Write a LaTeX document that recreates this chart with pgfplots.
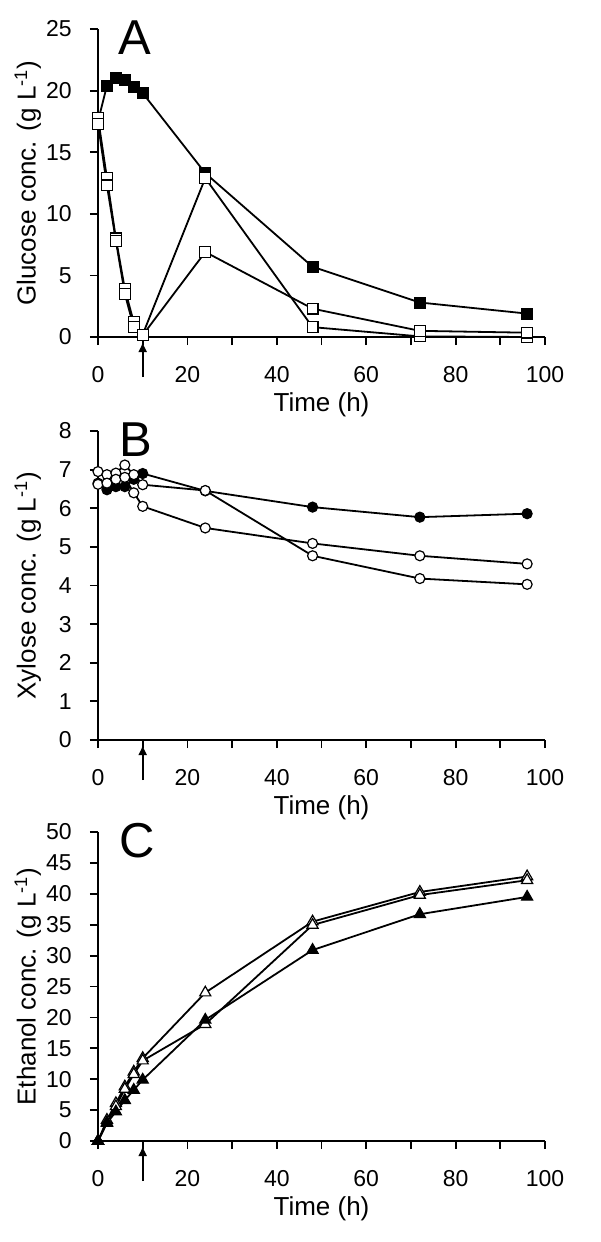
\documentclass[border=0pt]{standalone}
\usepackage{fontspec}
\setmainfont{Liberation Sans}
\usepackage{pgfplots}
\pgfplotsset{compat=1.18}
\usetikzlibrary{arrows.meta}

\pgfplotsset{
 panel/.style={
  scale only axis, width=223.5pt, anchor=south west,
  xmin=0, xmax=100, ymin=0,
  axis x line=bottom, axis y line=left,
  axis line style={-, line width=0.9pt},
  tick align=outside, major tick length=4pt, minor tick length=4pt,
  every tick/.style={black, line width=0.9pt},
  xtick={0,20,...,100}, minor xtick={10,30,...,90},
  tick label style={font=\fontsize{11.5}{13}\selectfont},
  /pgf/number format/assume math mode=true,
  xticklabel style={anchor=center, inner sep=0pt, yshift=-15pt},
  yticklabel style={anchor=east, inner sep=0pt, xshift=-9pt},
  every axis x label/.style={at={(axis description cs:0.5,-0.22)}, anchor=center, font=\fontsize{13}{15}\selectfont},
  every axis y label/.style={at={(axis description cs:-0.157,0.5)}, rotate=90, anchor=center, font=\fontsize{13}{15}\selectfont},
  xlabel={Time (h)},
  clip=false,
 },
 fsq/.style={black, line width=0.9pt, mark=square*, mark size=2.7pt, mark options={solid, fill=black, line width=0.6pt}},
 osq/.style={black, line width=0.9pt, mark=square*, mark size=2.7pt, mark options={solid, fill=white, line width=0.6pt}},
 fci/.style={black, line width=0.9pt, mark=*, mark size=2.5pt, mark options={solid, fill=black, line width=0.6pt}},
 oci/.style={black, line width=0.9pt, mark=*, mark size=2.5pt, mark options={solid, fill=white, line width=0.6pt}},
 ftr/.style={black, line width=0.9pt, mark=triangle*, mark size=3.2pt, mark options={solid, fill=black, line width=0.6pt}},
 otr/.style={black, line width=0.9pt, mark=triangle*, mark size=3.2pt, mark options={solid, fill=white, line width=0.6pt}},
}
\newcommand{\uparr}{\draw[-{Latex[length=5pt,width=4.5pt]}, line width=0.8pt] ([yshift=-20pt]axis cs:10,0) -- ([yshift=-2.5pt]axis cs:10,0);}

\begin{document}
\begin{tikzpicture}
\useasboundingbox (0pt,0pt) rectangle (300pt,-621pt);

% Panel A
\begin{axis}[panel, at={(49pt,-168.5pt)}, height=154pt,
  ymax=25, ytick={0,5,...,25},
  ylabel={Glucose conc. (g L\textsuperscript{-1})}]
\addplot[fsq] coordinates {(0,17.5)(2,20.4)(4,21.0)(6,20.9)(8,20.3)(10,19.8)(24,13.3)(48,5.7)(72,2.8)(96,1.9)};
\addplot[osq] coordinates {(0,17.8)(2,12.9)(4,8.0)(6,3.9)(8,1.2)(10,0.2)(24,12.9)(48,0.8)(72,0.05)(96,0.0)};
\addplot[osq] coordinates {(0,17.3)(2,12.3)(4,7.8)(6,3.5)(8,0.8)(10,0.15)(24,6.9)(48,2.3)(72,0.5)(96,0.35)};
\uparr
\end{axis}

% Panel B
\begin{axis}[panel, at={(49pt,-370pt)}, height=154.5pt,
  ymax=8, ytick={0,1,...,8},
  ylabel={Xylose conc. (g L\textsuperscript{-1})}]
\addplot[fci] coordinates {(0,6.65)(2,6.48)(4,6.56)(6,6.56)(8,6.75)(10,6.9)(24,6.45)(48,6.03)(72,5.77)(96,5.86)};
\addplot[oci] coordinates {(0,6.95)(2,6.87)(4,6.91)(6,7.12)(8,6.87)(10,6.61)(24,6.46)(48,4.77)(72,4.18)(96,4.03)};
\addplot[oci] coordinates {(0,6.62)(2,6.65)(4,6.75)(6,6.8)(8,6.4)(10,6.05)(24,5.49)(48,5.09)(72,4.77)(96,4.56)};
\uparr
\end{axis}

% Panel C
\begin{axis}[panel, at={(49pt,-570.5pt)}, height=154.5pt,
  ymax=50, ytick={0,5,...,50},
  ylabel={Ethanol conc. (g L\textsuperscript{-1})}]
\addplot[otr] coordinates {(0,0)(2,3.4)(4,6.1)(6,8.8)(8,11.2)(10,13.4)(24,24.0)(48,35.5)(72,40.3)(96,42.8)};
\addplot[otr] coordinates {(0,0)(2,3.0)(4,5.6)(6,8.4)(8,10.8)(10,13.0)(24,18.9)(48,34.95)(72,39.8)(96,42.2)};
\addplot[ftr] coordinates {(0,0)(2,2.9)(4,4.75)(6,6.6)(8,8.25)(10,9.9)(24,19.6)(48,30.9)(72,36.7)(96,39.5)};
\uparr
\end{axis}

\node[font=\fontsize{24.5}{26}\selectfont, inner sep=0pt] at (67.5pt,-18.75pt) {A};
\node[font=\fontsize{24.5}{26}\selectfont, inner sep=0pt] at (68pt,-220pt) {B};
\node[font=\fontsize{24.5}{26}\selectfont, inner sep=0pt] at (68.5pt,-420.5pt) {C};
\end{tikzpicture}
\end{document}
